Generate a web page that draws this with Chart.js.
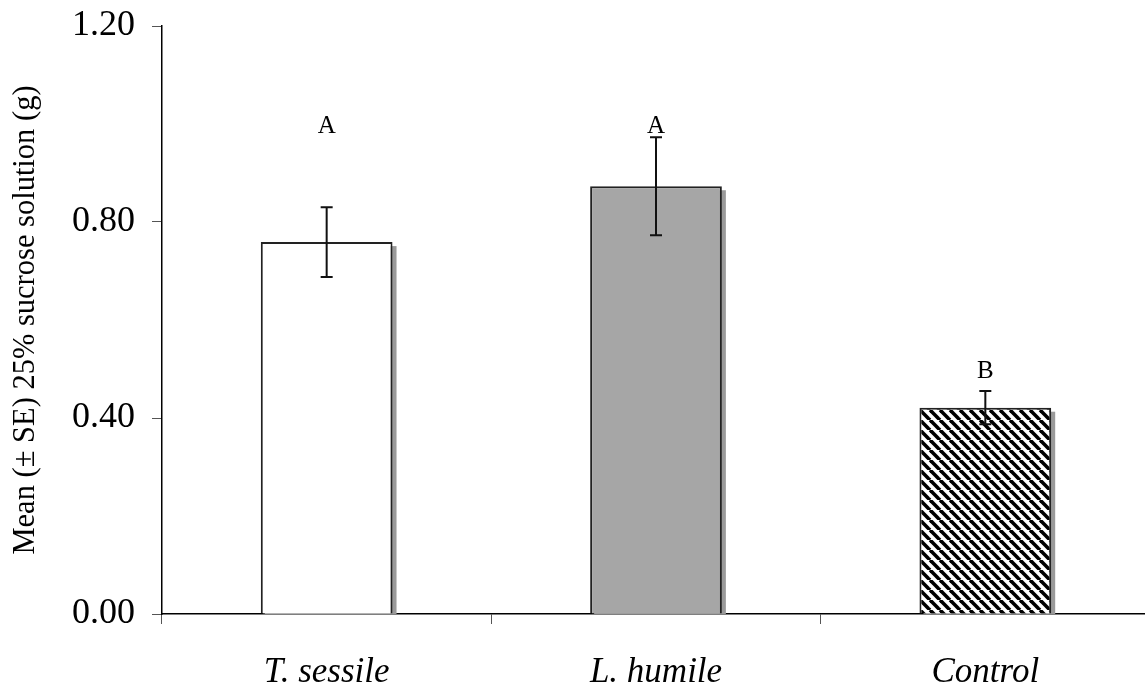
<!DOCTYPE html>
<html>
<head>
<meta charset="utf-8">
<script src="https://cdn.jsdelivr.net/npm/chart.js@4.4.0/dist/chart.umd.min.js"></script>
<style>
  html, body { margin: 0; padding: 0; background: #fff; overflow: hidden; }
  #wrap { width: 1150px; height: 692px; }
</style>
</head>
<body>
<div id="wrap"><canvas id="c" width="1150" height="692"></canvas></div>
<script>
// data
const categories = ['T. sessile', 'L. humile', 'Control'];
const means = [0.759, 0.873, 0.421];
const stdErr = [0.071, 0.100, 0.034];
const letters = ['A', 'A', 'B'];
const letterY = [0.982, 0.982, 0.482];   // baseline of the letters, in y units
const yTicks = [0, 0.4, 0.8, 1.2];

const SERIF = '"Liberation Serif", "Times New Roman", serif';

// diagonal stripes for the control bar
function makeHatch() {
  const t = document.createElement('canvas');
  t.width = 10; t.height = 10;
  const g = t.getContext('2d');
  g.fillStyle = '#fff';
  g.fillRect(0, 0, 10, 10);
  g.strokeStyle = '#000';
  g.lineWidth = 3.6;
  for (const x0 of [-10, 0, 10]) {
    g.beginPath();
    g.moveTo(x0, 0);
    g.lineTo(x0 + 10, 10);
    g.stroke();
  }
  return g.createPattern(t, 'repeat');
}

const ctx = document.getElementById('c');
const fills = ['#ffffff', '#a6a6a6', makeHatch()];

// grey drop shadow behind every bar
const shadowPlugin = {
  id: 'barShadow',
  beforeDatasetsDraw(chart) {
    const c = chart.ctx, a = chart.chartArea;
    c.save();
    c.beginPath();
    c.rect(a.left, a.top, a.right - a.left, a.bottom - a.top);
    c.clip();
    c.fillStyle = '#9a9a9a';
    chart.getDatasetMeta(0).data.forEach(bar => {
      c.fillRect(bar.x - bar.width / 2 + 4, bar.y + 4, bar.width, bar.base - bar.y);
    });
    c.restore();
  }
};

// error bars and significance letters
const errorPlugin = {
  id: 'errorBars',
  afterDatasetsDraw(chart) {
    const c = chart.ctx, ys = chart.scales.y;
    c.save();
    c.strokeStyle = '#111';
    c.lineWidth = 2;
    chart.getDatasetMeta(0).data.forEach((bar, i) => {
      const top = ys.getPixelForValue(means[i] + stdErr[i]);
      const bot = ys.getPixelForValue(means[i] - stdErr[i]);
      const x = bar.x;
      c.beginPath();
      c.moveTo(x, top); c.lineTo(x, bot);
      c.moveTo(x - 6, top); c.lineTo(x + 6, top);
      c.moveTo(x - 6, bot); c.lineTo(x + 6, bot);
      c.stroke();
      c.fillStyle = '#000';
      c.font = '25px ' + SERIF;
      c.textAlign = 'center';
      c.textBaseline = 'alphabetic';
      c.fillText(letters[i], x, ys.getPixelForValue(letterY[i]));
    });
    c.restore();
  }
};

new Chart(ctx, {
  type: 'bar',
  data: {
    labels: categories,
    datasets: [{
      data: means,
      backgroundColor: fills,
      borderColor: '#222',
      borderWidth: 2,
      categoryPercentage: 1.0,
      barPercentage: 0.4
    }]
  },
  options: {
    responsive: false,
    animation: false,
    layout: { padding: { top: 26, right: 0, left: 0, bottom: 0 } },
    plugins: { legend: { display: false }, tooltip: { enabled: false } },
    scales: {
      x: {
        grid: { display: true, drawOnChartArea: false, tickLength: 10, color: '#555', offset: true },
        border: { color: '#000', width: 1.5 },
        ticks: {
          color: '#000',
          padding: 28,
          font: { family: SERIF, size: 35, style: 'italic' }
        },
        afterFit(scale) { scale.height = 78; scale.paddingLeft = 0; scale.paddingRight = 0; }
      },
      y: {
        min: 0,
        max: 1.2,
        afterBuildTicks(scale) { scale.ticks = yTicks.map(v => ({ value: v })); },
        grid: { display: true, drawOnChartArea: false, tickLength: 10, color: '#555' },
        border: { color: '#000', width: 1.5 },
        ticks: {
          color: '#000',
          padding: 17,
          font: { family: SERIF, size: 36 },
          callback: v => Number(v).toFixed(2)
        },
        title: {
          display: true,
          text: 'Mean (± SE) 25% sucrose solution (g)',
          color: '#000',
          padding: { top: 8, bottom: 0 },
          font: { family: SERIF, size: 30.5 }
        },
        afterFit(scale) { scale.width = 162; scale.paddingTop = 0; scale.paddingBottom = 0; }
      }
    }
  },
  plugins: [shadowPlugin, errorPlugin]
});
</script>
</body>
</html>
